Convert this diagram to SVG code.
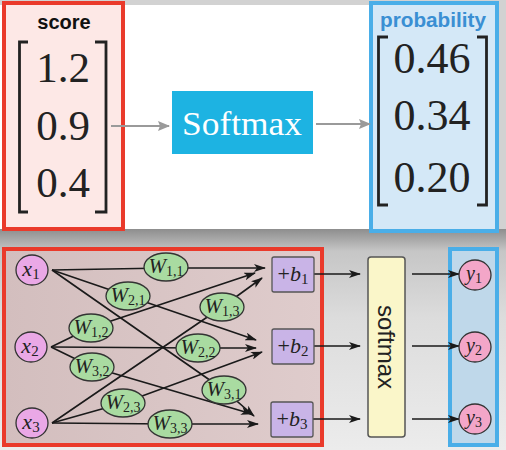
<svg xmlns="http://www.w3.org/2000/svg" width="506" height="450" viewBox="0 0 506 450">
<defs>
<linearGradient id="bgBottom" x1="0" y1="0" x2="0" y2="1">
<stop offset="0" stop-color="#8e8e8e"/>
<stop offset="0.1" stop-color="#c6c6c6"/>
<stop offset="0.4" stop-color="#dcdcdc"/>
<stop offset="1" stop-color="#ececec"/>
</linearGradient>
<linearGradient id="redFill" x1="0" y1="0" x2="1" y2="0">
<stop offset="0" stop-color="#d3bebe"/>
<stop offset="1" stop-color="#dfcccc"/>
</linearGradient>
<marker id="ahBlack" viewBox="0 0 12 8" refX="11" refY="4" markerWidth="12" markerHeight="8" markerUnits="userSpaceOnUse" orient="auto">
<path d="M0,0 L12,4 L0,8 L3,4 Z" fill="#1a1a1a"/>
</marker>
<marker id="ahGray" viewBox="0 0 12 10" refX="11" refY="5" markerWidth="12" markerHeight="10" markerUnits="userSpaceOnUse" orient="auto">
<path d="M0,0 L12,5 L0,10 L2,5 Z" fill="#9a9a9a"/>
</marker>
</defs>
<style>
.num{font-family:"Liberation Serif","DejaVu Serif",serif;font-size:43px;fill:#222;text-anchor:middle}
.brk{fill:none;stroke:#222;stroke-width:2.8}
.math{font-family:"Liberation Serif","DejaVu Serif",serif;font-style:italic;fill:#222;text-anchor:middle}
.up{font-style:normal}
.edge{fill:none;stroke:#1a1a1a;stroke-width:1.6}
.xn{fill:#eaa8e6;stroke:#333;stroke-width:1.3}
.yn{fill:#f3a6c8;stroke:#333;stroke-width:1.3}
.wn{fill:#a9dba1;stroke:#333;stroke-width:1.3}
.bn{fill:#c9b4e7;stroke:#555;stroke-width:1.3}
</style>

<!-- background -->
<rect x="0" y="0" width="506" height="450" fill="#d2d2d2"/>
<rect x="0" y="5" width="497" height="224" fill="#ffffff"/>
<rect x="0" y="229" width="506" height="221" fill="url(#bgBottom)"/>

<!-- top: score -->
<g id="node-score">
<rect x="4" y="3" width="119" height="226" fill="#fde8e6" stroke="#ea3a2b" stroke-width="4"/>
<text x="64" y="29" font-family="Liberation Sans,Arial,sans-serif" font-weight="bold" font-size="20" text-anchor="middle" fill="#111">score</text>
<path class="brk" d="M28,42 H19.5 V212 H28"/>
<path class="brk" d="M95,42 H106 V212 H95"/>
<text class="num" x="63" y="82">1.2</text>
<text class="num" x="63" y="140">0.9</text>
<text class="num" x="63" y="197">0.4</text>
</g>

<g id="node-softmax-top">
<rect x="172" y="91" width="141" height="63" fill="#1db3e2"/>
<text x="242" y="135" font-family="Liberation Serif,DejaVu Serif,serif" font-size="34" fill="#ffffff" text-anchor="middle" textLength="120" lengthAdjust="spacingAndGlyphs">Softmax</text>
</g>

<g id="node-probability">
<rect x="371" y="3" width="126" height="228" fill="#d4e8f7" stroke="#4aaee8" stroke-width="4"/>
<text x="433" y="27" font-family="Liberation Sans,Arial,sans-serif" font-weight="bold" font-size="20" text-anchor="middle" fill="#3a8fd3" textLength="106" lengthAdjust="spacingAndGlyphs">probability</text>
<path class="brk" d="M388,37 H378.5 V205 H388" stroke="#233"/>
<path class="brk" d="M477,37 H486.5 V205 H477" stroke="#233"/>
<text class="num" x="432" y="73" style="font-size:44px">0.46</text>
<text class="num" x="432" y="130" style="font-size:44px">0.34</text>
<text class="num" x="432" y="192" style="font-size:44px">0.20</text>
</g>

<g id="connectors-top">
<line x1="111" y1="126" x2="169" y2="126" stroke="#9a9a9a" stroke-width="2" marker-end="url(#ahGray)"/>
<line x1="316" y1="124" x2="370" y2="124" stroke="#9a9a9a" stroke-width="2" marker-end="url(#ahGray)"/>
</g>

<!-- bottom panels -->
<g id="panel-network">
<rect x="4" y="249" width="318" height="196" fill="url(#redFill)" stroke="#ea3a2b" stroke-width="4"/>
</g>
<g id="panel-output">
<rect x="450" y="249" width="47" height="196" fill="#bfd8ea" stroke="#4aaee8" stroke-width="4"/>
</g>

<g id="connectors">
<!-- x1 -->
<polyline class="edge" points="52,270 166,268 265,268" marker-end="url(#ahBlack)"/>
<polyline class="edge" points="52,270 128,296 256,340" marker-end="url(#ahBlack)"/>
<polyline class="edge" points="52,270 224,390 254,416" marker-end="url(#ahBlack)"/>
<!-- x2 -->
<polyline class="edge" points="51,347 90,328 255,273" marker-end="url(#ahBlack)"/>
<polyline class="edge" points="51,347 198,348 256,348" marker-end="url(#ahBlack)"/>
<polyline class="edge" points="51,347 92,367 252,414" marker-end="url(#ahBlack)"/>
<!-- x3 -->
<polyline class="edge" points="52,423 222,307 262,278" marker-end="url(#ahBlack)"/>
<polyline class="edge" points="52,423 123,403 262,352" marker-end="url(#ahBlack)"/>
<polyline class="edge" points="52,423 170,424 258,424" marker-end="url(#ahBlack)"/>
<!-- bias to softmax -->
<line class="edge" x1="314" y1="274" x2="360" y2="274" marker-end="url(#ahBlack)"/>
<line class="edge" x1="314" y1="346" x2="360" y2="346" marker-end="url(#ahBlack)"/>
<line class="edge" x1="313" y1="419" x2="360" y2="419" marker-end="url(#ahBlack)"/>
<!-- softmax to y -->
<line class="edge" x1="412" y1="274" x2="459" y2="274" marker-end="url(#ahBlack)"/>
<line class="edge" x1="412" y1="346" x2="459" y2="346" marker-end="url(#ahBlack)"/>
<line class="edge" x1="412" y1="419" x2="459" y2="419" marker-end="url(#ahBlack)"/>
</g>

<!-- input nodes -->
<g id="node-x1"><ellipse class="xn" cx="32" cy="270" rx="16" ry="15"/><text class="math" x="31" y="276" font-size="22">x<tspan font-size="15" dy="3" class="up">1</tspan></text></g>
<g id="node-x2"><ellipse class="xn" cx="31" cy="347" rx="16" ry="15"/><text class="math" x="30" y="353" font-size="22">x<tspan font-size="15" dy="3" class="up">2</tspan></text></g>
<g id="node-x3"><ellipse class="xn" cx="32" cy="423" rx="16" ry="15"/><text class="math" x="31" y="429" font-size="22">x<tspan font-size="15" dy="3" class="up">3</tspan></text></g>

<!-- weight nodes -->
<g id="node-w11"><ellipse class="wn" cx="166" cy="267" rx="22" ry="14"/><text class="math" x="166" y="273" font-size="21">W<tspan font-size="14" dy="3" class="up">1,1</tspan></text></g>
<g id="node-w21"><ellipse class="wn" cx="128" cy="296" rx="22" ry="14"/><text class="math" x="128" y="302" font-size="21">W<tspan font-size="14" dy="3" class="up">2,1</tspan></text></g>
<g id="node-w12"><ellipse class="wn" cx="91" cy="328" rx="22" ry="14"/><text class="math" x="91" y="334" font-size="21">W<tspan font-size="14" dy="3" class="up">1,2</tspan></text></g>
<g id="node-w32"><ellipse class="wn" cx="92" cy="367" rx="22" ry="14"/><text class="math" x="92" y="373" font-size="21">W<tspan font-size="14" dy="3" class="up">3,2</tspan></text></g>
<g id="node-w23"><ellipse class="wn" cx="123" cy="403" rx="22" ry="14"/><text class="math" x="123" y="409" font-size="21">W<tspan font-size="14" dy="3" class="up">2,3</tspan></text></g>
<g id="node-w33"><ellipse class="wn" cx="170" cy="424" rx="22" ry="14"/><text class="math" x="170" y="430" font-size="21">W<tspan font-size="14" dy="3" class="up">3,3</tspan></text></g>
<g id="node-w13"><ellipse class="wn" cx="222" cy="307" rx="22" ry="14"/><text class="math" x="222" y="313" font-size="21">W<tspan font-size="14" dy="3" class="up">1,3</tspan></text></g>
<g id="node-w22"><ellipse class="wn" cx="198" cy="348" rx="22" ry="14"/><text class="math" x="198" y="354" font-size="21">W<tspan font-size="14" dy="3" class="up">2,2</tspan></text></g>
<g id="node-w31"><ellipse class="wn" cx="224" cy="390" rx="22" ry="14"/><text class="math" x="224" y="396" font-size="21">W<tspan font-size="14" dy="3" class="up">3,1</tspan></text></g>

<!-- bias nodes -->
<g id="node-b1"><rect class="bn" x="272" y="257" width="42" height="35" rx="2"/><text class="math" x="293" y="281" font-size="22"><tspan class="up">+</tspan>b<tspan font-size="15" dy="3" class="up">1</tspan></text></g>
<g id="node-b2"><rect class="bn" x="272" y="329" width="42" height="35" rx="2"/><text class="math" x="293" y="353" font-size="22"><tspan class="up">+</tspan>b<tspan font-size="15" dy="3" class="up">2</tspan></text></g>
<g id="node-b3"><rect class="bn" x="271" y="402" width="42" height="35" rx="2"/><text class="math" x="292" y="426" font-size="22"><tspan class="up">+</tspan>b<tspan font-size="15" dy="3" class="up">3</tspan></text></g>

<!-- softmax -->
<g id="node-softmax">
<rect x="368" y="257" width="37" height="180" rx="3" fill="#faf6c9" stroke="#555" stroke-width="1.5"/>
<text transform="translate(378,347) rotate(90)" x="0" y="0" font-family="Liberation Sans,Arial,sans-serif" font-size="24" fill="#222" text-anchor="middle">softmax</text>
</g>

<!-- outputs -->
<g id="node-y1"><ellipse class="yn" cx="475" cy="275" rx="16" ry="15"/><text class="math" x="474" y="280" font-size="20">y<tspan font-size="14" dy="3" class="up">1</tspan></text></g>
<g id="node-y2"><ellipse class="yn" cx="475" cy="347" rx="16" ry="15"/><text class="math" x="474" y="352" font-size="20">y<tspan font-size="14" dy="3" class="up">2</tspan></text></g>
<g id="node-y3"><ellipse class="yn" cx="475" cy="419" rx="16" ry="15"/><text class="math" x="474" y="424" font-size="20">y<tspan font-size="14" dy="3" class="up">3</tspan></text></g>
</svg>
